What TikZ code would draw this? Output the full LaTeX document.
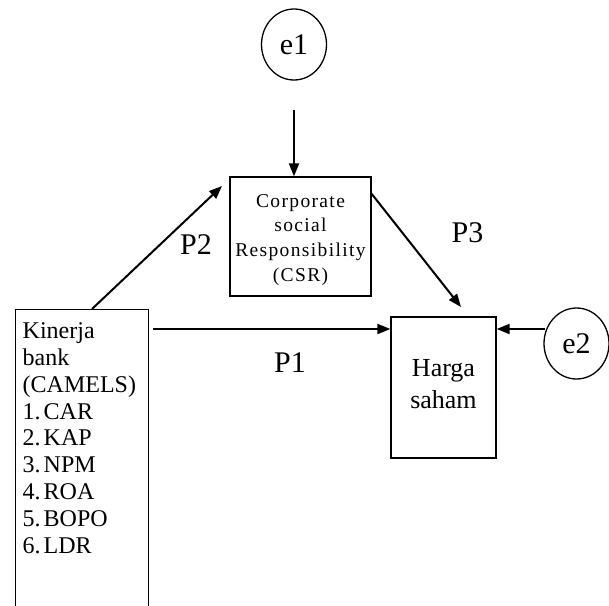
\documentclass[tikz,border=0pt]{standalone}
\usepackage{fontspec}
\setmainfont{Liberation Serif}
\usetikzlibrary{arrows.meta,shapes.geometric}
\newcommand{\itemno}[1]{\makebox[21pt][l]{#1}}
\begin{document}
\begin{tikzpicture}[x=1pt,y=-1pt,
  box/.style={draw,line width=1.3pt,rectangle,inner sep=0pt},
  errnode/.style={draw,line width=1.3pt,ellipse,minimum width=65pt,minimum height=71pt,inner sep=0pt,font=\fontsize{30}{32}\selectfont},
  arr/.style={line width=2pt,-{Triangle[length=13pt,width=10pt]}},
  plabel/.style={font=\fontsize{30}{32}\selectfont,inner sep=0pt}]
\useasboundingbox (0,0) rectangle (609,605);
% boxes
\node[box,minimum width=133pt,minimum height=320pt,anchor=north west] (kin) at (15,309) {};
\node[anchor=north west,inner sep=0pt,align=left,font=\fontsize{24}{26.8}\selectfont] (kintext) at (22.5,322.6)
  {Kinerja\\bank\\(CAMELS)\\\itemno{1.}CAR\\\itemno{2.}KAP\\\itemno{3.}NPM\\\itemno{4.}ROA\\\itemno{5.}BOPO\\\itemno{6.}LDR};
\node[box,minimum width=141pt,minimum height=119pt] (csr) at (300.5,236.5) {};
\node[inner sep=0pt,align=center,font=\fontsize{19.5}{24.8}\selectfont\addfontfeature{LetterSpace=7}] (csrtext) at (300.5,240)
  {Corporate\\social\\Responsibility\\(CSR)};
\node[box,minimum width=105pt,minimum height=141pt] (harga) at (443.5,387.5) {};
\node[inner sep=0pt,align=center,font=\fontsize{26}{32}\selectfont] (hargatext) at (443.5,384) {Harga\\saham};
% error terms
\node[errnode] (e1) at (294,44.5) {e1};
\node[errnode] (e2) at (576.5,343.5) {e2};
% connector end points
\coordinate (e1s) at (294,110);
\coordinate (e2s) at (545,329);
\coordinate (p1s) at (153,329);
\coordinate (p2s) at (92,309);
\coordinate (p2e) at (222,186);
\coordinate (p3s) at (371,193);
\coordinate (p3e) at (461,307);
% arrows
\draw[arr] (e1s) -- (e1s |- csr.north);
\draw[arr] (e2s) -- (e2s -| harga.east);
\draw[arr] (p1s) -- (p1s -| harga.west);
\draw[arr] (p2s) -- (p2e);
\draw[arr] (p3s) -- (p3e);
% labels
\node[plabel] (lp1) at (290,362.5) {P1};
\node[plabel] (lp2) at (196,244.5) {P2};
\node[plabel] (lp3) at (467.5,233) {P3};
\end{tikzpicture}
\end{document}
